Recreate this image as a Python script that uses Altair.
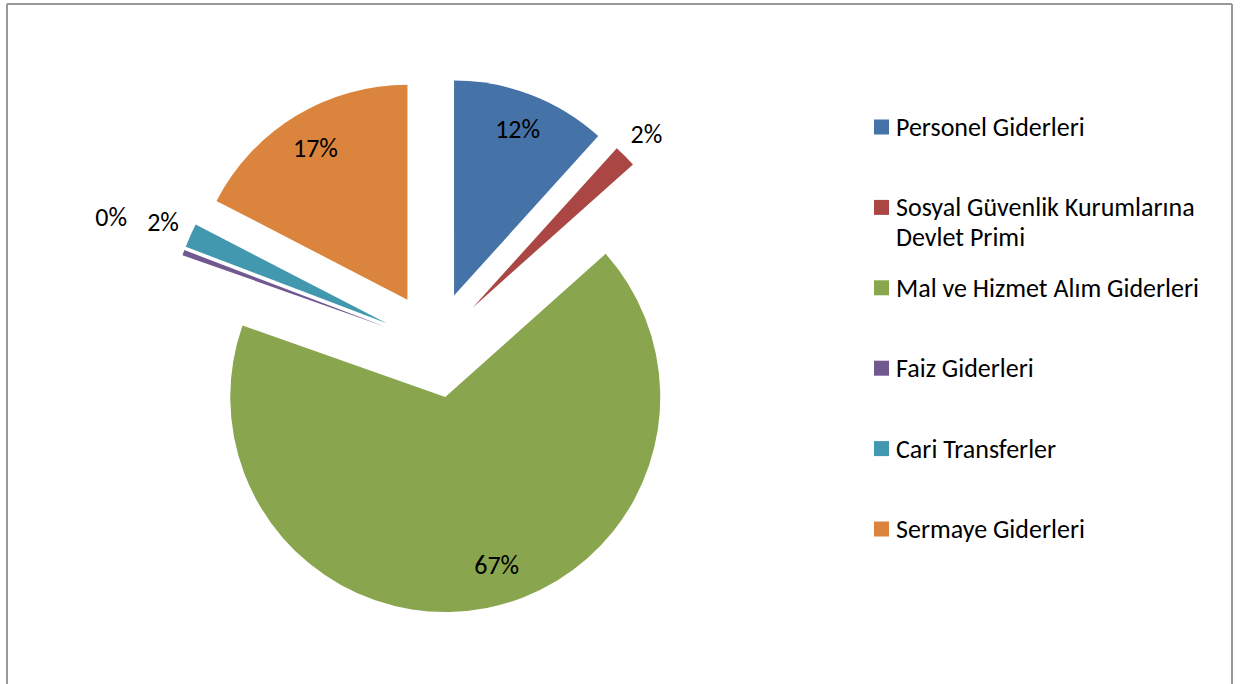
import altair as alt
import pandas as pd

categories = [
    "Personel Giderleri",
    "Sosyal Güvenlik Kurumlarına Devlet Primi",
    "Mal ve Hizmet Alım Giderleri",
    "Faiz Giderleri",
    "Cari Transferler",
    "Sermaye Giderleri",
]
legend_labels = [
    "Personel Giderleri",
    "Sosyal Güvenlik Kurumlarına\nDevlet Primi",
    "Mal ve Hizmet Alım Giderleri",
    "Faiz Giderleri",
    "Cari Transferler",
    "Sermaye Giderleri",
]
values = [11.7, 1.7, 67.0, 0.4, 1.8, 17.4]
colors = ["#4572A7", "#AA4643", "#89A54E", "#71588F", "#4198AF", "#DB843D"]

df = pd.DataFrame({
    "category": categories,
    "legend": legend_labels,
    "value": values,
    "order": list(range(len(categories))),
})

FONT = "Carlito, Lato, sans-serif"
FS = 26
CX, CY, R, D = 435, 345, 215, 53

base = alt.Chart(df).transform_joinaggregate(
    total="sum(value)"
).transform_window(
    cum="sum(value)", sort=[alt.SortField("order")], frame=[None, 0]
).transform_calculate(
    pct="datum.value / datum.total",
    t1="2 * PI * datum.cum / datum.total",
    t0="2 * PI * (datum.cum - datum.value) / datum.total",
).transform_calculate(
    mid="(datum.t0 + datum.t1) / 2",
).transform_calculate(
    px=f"{CX} + {D} * sin(datum.mid)",
    py=f"{CY} - {D} * cos(datum.mid)",
    lr="datum.pct >= 0.05 ? 177 : (datum.pct < 0.01 ? 292 : 245)",
    la="datum.pct > 0.5 ? datum.mid - 0.1 : datum.mid",
).transform_calculate(
    lx="datum.px + datum.lr * sin(datum.la)",
    ly="datum.py - datum.lr * cos(datum.la) - (datum.pct < 0.01 ? 8 : 0)",
    gy="127 + 80.4 * datum.order",
)

color = alt.Color("category:N", scale=alt.Scale(domain=categories, range=colors), legend=None)

arcs = base.mark_arc(stroke=None).encode(
    theta=alt.Theta("t0:Q", scale=None),
    theta2=alt.Theta2("t1:Q"),
    x=alt.X("px:Q", scale=None),
    y=alt.Y("py:Q", scale=None),
    radius=alt.value(R),
    color=color,
)

labels = base.mark_text(font=FONT, fontSize=FS, color="#000000", align="center", baseline="middle").encode(
    x=alt.X("lx:Q", scale=None),
    y=alt.Y("ly:Q", scale=None),
    text=alt.Text("pct:Q", format=".0%"),
)

leg_sq = base.mark_square(size=225, opacity=1).encode(
    x=alt.value(881.5),
    y=alt.Y("gy:Q", scale=None),
    color=color,
)

leg_tx = base.transform_calculate(
    gty="datum.gy + 9"
).mark_text(font=FONT, fontSize=FS, color="#000000", align="left", baseline="alphabetic", lineBreak="\n", lineHeight=30).encode(
    x=alt.value(896),
    y=alt.Y("gty:Q", scale=None),
    text="legend:N",
)

border_col = "#999999"
left = alt.Chart(df).mark_rule(color=border_col, strokeWidth=2).encode(
    x=alt.value(7), y=alt.value(4), y2=alt.value(684))
top = alt.Chart(df).mark_rule(color=border_col, strokeWidth=2).encode(
    x=alt.value(7), x2=alt.value(1232), y=alt.value(4))
right = alt.Chart(df).mark_rule(color=border_col, strokeWidth=2).encode(
    x=alt.value(1232), y=alt.value(4), y2=alt.value(684))

chart = alt.layer(left, top, right, arcs, labels, leg_sq, leg_tx).properties(
    width=1240, height=684, padding=0, autosize=alt.AutoSizeParams(type="none"),
    background="white",
).configure_view(stroke=None)

chart.save("out.html", embed_options={"renderer": "svg", "actions": False})
